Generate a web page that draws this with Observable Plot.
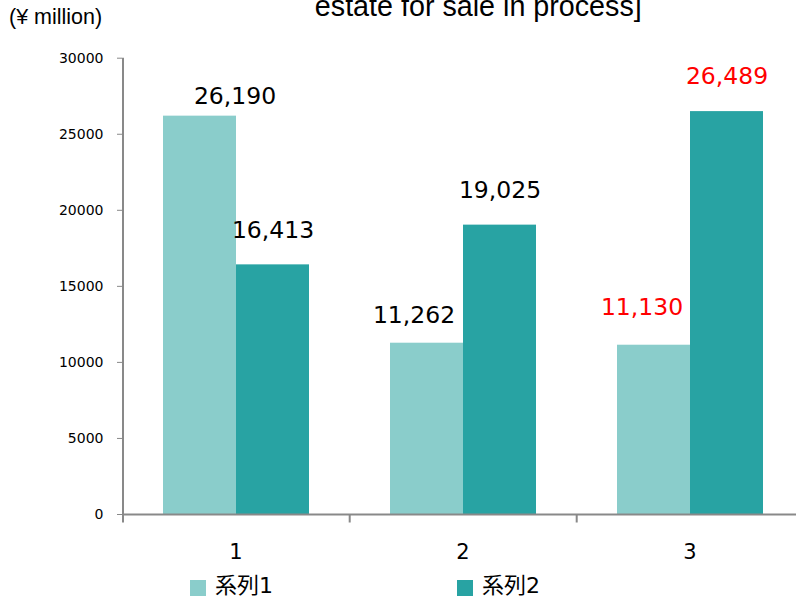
<!DOCTYPE html>
<html><head><meta charset="utf-8">
<script src="https://cdn.jsdelivr.net/npm/d3@7"></script>
<script src="https://cdn.jsdelivr.net/npm/@observablehq/plot@0.6"></script>
<style>
body{margin:0;background:#fff;}
#wrap{position:relative;width:796px;height:596px;overflow:hidden;}
#overlay{position:absolute;left:0;top:0;pointer-events:none;}
</style></head><body><div id="wrap"></div>
<script>
// ---- data ----
const categories = ["1", "2", "3"];
const seriesNames = ["系列1", "系列2"];
const series1 = [26190, 11262, 11130];
const series2 = [16413, 19025, 26489];
const yTicks = [0, 5000, 10000, 15000, 20000, 25000, 30000];
const titleText = "estate for sale in process]";
const yLabelText = "(¥ million)";

// ---- styles ----
const colors = ["#8ACDCB", "#28A3A3"];
const labelColorByCat = {"1": "#000000", "2": "#000000", "3": "#FF0000"};
const axisGray = "#898989";
// label nudges (dx, dy) in row order
const labelNudge = [[35, -12], [0, -27], [-13, -20], [0, -27], [-12, -30], [0, -28]];

const rows = categories.flatMap((c, i) => [
  {cat: c, series: seriesNames[0], value: series1[i]},
  {cat: c, series: seriesNames[1], value: series2[i]}
]);
const fmt = d3.format(",");

const chart = Plot.plot({
  width: 796,
  height: 596,
  marginLeft: 122,
  marginRight: 0,
  marginTop: 57.7,
  marginBottom: 82,
  style: {fontFamily: "DejaVu Sans", fontSize: "14px", background: "#fff"},
  fx: {domain: categories, range: [122, 803], padding: 0},
  x: {domain: seriesNames, paddingInner: 0, paddingOuter: 0.546, axis: null},
  y: {domain: [0, 30000]},
  color: {domain: seriesNames, range: colors},
  marks: [
    Plot.barY(rows, {fx: "cat", x: "series", y: "value", fill: "series"}),
    Plot.axisY({ticks: yTicks, tickFormat: d3.format("d"), tickSize: 5, tickPadding: 14,
      fontSize: 14, stroke: axisGray, fill: "#000", label: null}),
    Plot.axisFx({anchor: "bottom", tickSize: 0, tickPadding: 29.4, fontSize: 21, fill: "#000", label: null}),
    ...rows.map((r, i) => Plot.text([r], {
      fx: "cat", x: "series", y: "value", text: d => fmt(d.value),
      dx: labelNudge[i][0], dy: labelNudge[i][1], lineAnchor: "bottom",
      fontSize: 23.5, fill: labelColorByCat[r.cat]
    }))
  ]
});

document.getElementById("wrap").appendChild(chart);

// axis lines using the library's scales
const fxs = chart.scale("fx");
const ys = chart.scale("y");
const svg = d3.select(chart);
const y0 = ys.apply(0);
const g = svg.append("g").attr("stroke", axisGray).attr("stroke-width", 2);
// y axis line
g.append("line").attr("x1", fxs.apply(categories[0]) + 1).attr("x2", fxs.apply(categories[0]) + 1)
  .attr("y1", ys.apply(30000)).attr("y2", y0 + 8.5);
// x axis line
g.append("line").attr("x1", fxs.apply(categories[0])).attr("x2", 796)
  .attr("y1", y0 + 0.5).attr("y2", y0 + 0.5);
// boundary ticks
categories.slice(1).forEach(c => {
  g.append("line").attr("x1", fxs.apply(c) + 0.7).attr("x2", fxs.apply(c) + 0.7)
    .attr("y1", y0).attr("y2", y0 + 8.5);
});

// overlay: title, y label, legend
const ov = d3.select("#wrap").append("svg").attr("id", "overlay")
  .attr("width", 796).attr("height", 596);
ov.append("text").attr("x", 478.3).attr("y", 15.7).attr("text-anchor", "middle")
  .attr("font-family", "Liberation Sans").attr("font-size", 28.7).attr("fill", "#000").text(titleText);
ov.append("text").attr("x", 9).attr("y", 24).attr("font-family", "Liberation Sans")
  .attr("font-size", 21.5).attr("fill", "#000").text(yLabelText);
const legendX = [190, 457];
seriesNames.forEach((s, i) => {
  ov.append("rect").attr("x", legendX[i]).attr("y", 580).attr("width", 16).attr("height", 16)
    .attr("fill", colors[i]);
  ov.append("text").attr("x", legendX[i] + 25).attr("y", 593)
    .attr("font-family", "'DejaVu Sans', 'Noto Sans CJK JP'").attr("font-size", 22)
    .attr("fill", "#000").text(s);
});
</script>
</body></html>
